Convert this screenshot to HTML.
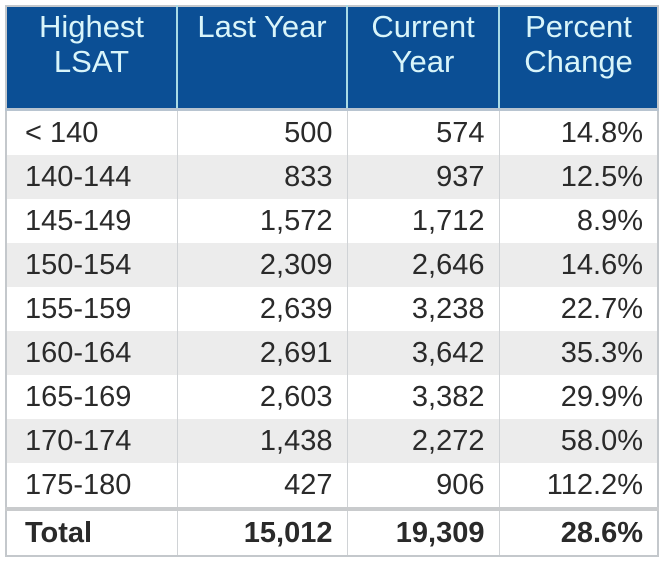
<!DOCTYPE html>
<html><head><style>
body{margin:0;width:664px;height:565px;background:#fff;overflow:hidden;font-family:"Liberation Sans",sans-serif;}
table{position:absolute;left:5px;top:5px;border-collapse:collapse;border:2px solid #c4c8cc;}
td,th{border-left:1px solid #d0d3d6;border-right:1px solid #d0d3d6;font-size:29px;color:#2a2a2a;padding:0 14px 0 14px;height:44px;line-height:44px;}
th{background:#0b4f95;color:#d9f5fa;font-weight:normal;font-size:31px;line-height:35px;height:99px;vertical-align:top;padding-top:2px;text-align:center;border-left:2px solid #a9dbe6;border-bottom:3px solid #b8c4d0;}
th:first-child{border-left:none;}
td{text-align:right;}
td:first-child{text-align:left;padding-left:18px;}
tr.g td{background:#ececec;}
tr.t td{font-weight:bold;border-top:4px solid #c9cbcd;height:42px;}
</style></head><body>
<table>
<colgroup><col style="width:171px"><col style="width:170px"><col style="width:152px"><col style="width:159px"></colgroup>
<tr><th>Highest<br>LSAT</th><th>Last Year</th><th>Current<br>Year</th><th>Percent<br>Change</th></tr>
<tr><td>&lt; 140</td><td>500</td><td>574</td><td>14.8%</td></tr>
<tr class="g"><td>140-144</td><td>833</td><td>937</td><td>12.5%</td></tr>
<tr><td>145-149</td><td>1,572</td><td>1,712</td><td>8.9%</td></tr>
<tr class="g"><td>150-154</td><td>2,309</td><td>2,646</td><td>14.6%</td></tr>
<tr><td>155-159</td><td>2,639</td><td>3,238</td><td>22.7%</td></tr>
<tr class="g"><td>160-164</td><td>2,691</td><td>3,642</td><td>35.3%</td></tr>
<tr><td>165-169</td><td>2,603</td><td>3,382</td><td>29.9%</td></tr>
<tr class="g"><td>170-174</td><td>1,438</td><td>2,272</td><td>58.0%</td></tr>
<tr><td>175-180</td><td>427</td><td>906</td><td>112.2%</td></tr>
<tr class="t"><td>Total</td><td>15,012</td><td>19,309</td><td>28.6%</td></tr>
</table>
</body></html>
